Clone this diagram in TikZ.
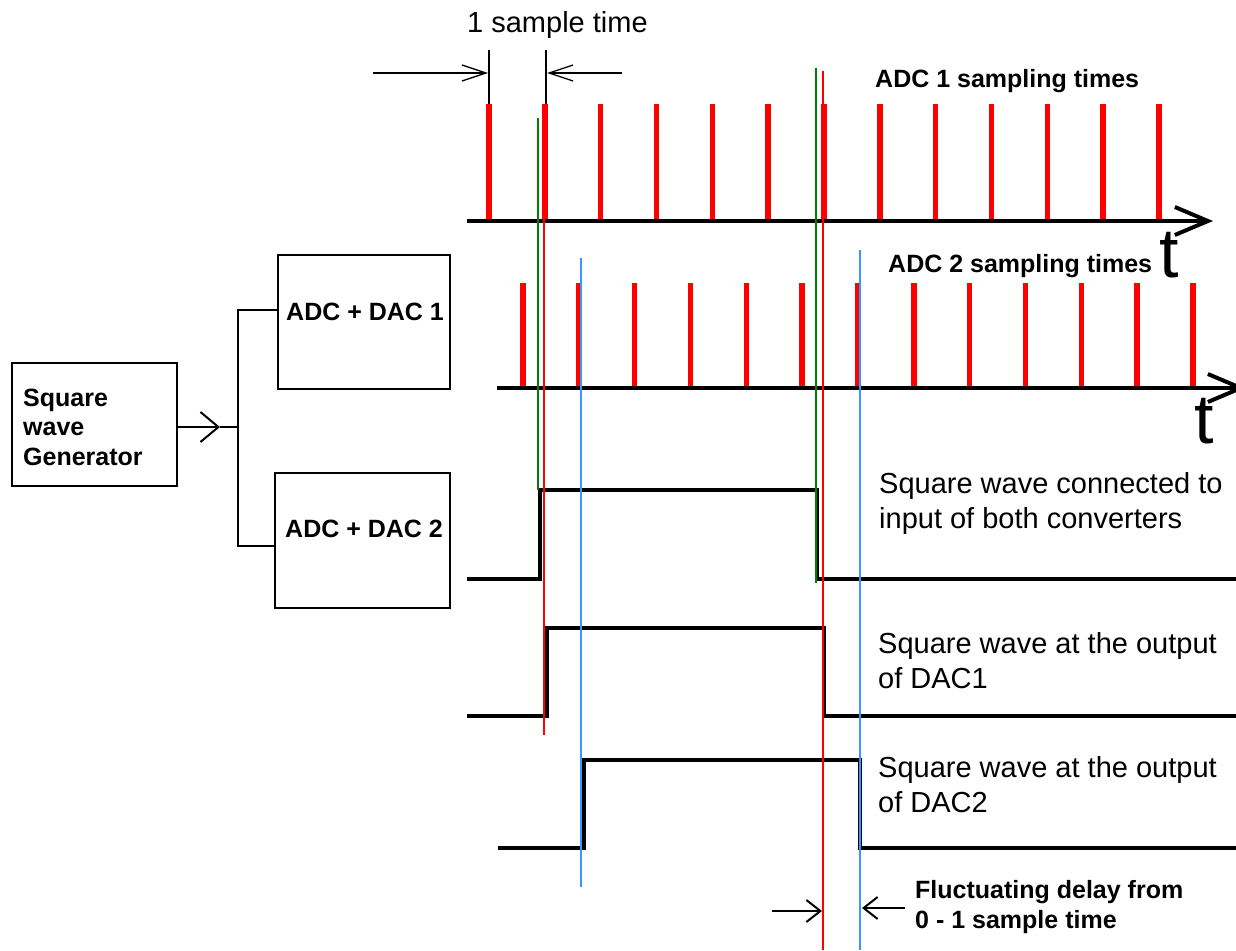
\documentclass[tikz,border=0pt]{standalone}
\usepackage{fontspec}
\setmainfont{Liberation Sans}
\usetikzlibrary{arrows.meta}
\definecolor{grn}{RGB}{0,128,0}
\definecolor{blu}{RGB}{51,153,255}
\begin{document}
\begin{tikzpicture}[x=1pt,y=-1pt,
  box/.style={draw, line width=2pt, inner sep=0pt},
  reg/.style={font=\fontsize{29}{35}\selectfont, inner sep=0pt, anchor=base west, align=left},
  bld/.style={font=\fontsize{25}{30}\selectfont\bfseries, inner sep=0pt, anchor=base west, align=left},
  tlbl/.style={font=\fontsize{70}{70}\selectfont, inner sep=0pt, anchor=base west},
  axisln/.style={line width=4.5pt, -{Straight Barb[length=33pt,width=28pt,line width=4pt]}},
  tick/.style={red, line width=5.5pt},
  wave/.style={line width=4pt, line join=miter},
  thin/.style={line width=1.5pt},
  dim/.style={line width=1.3pt, -{Straight Barb[length=24pt,width=16pt,line width=1.3pt]}},
  dly/.style={line width=2pt, -{Straight Barb[length=14pt,width=22pt,line width=2pt]}},
  wire/.style={line width=2pt}
]
\useasboundingbox (0,0) rectangle (1236,950);

% ---- block diagram ----
\node[box, minimum width=165pt, minimum height=123pt] (gen) at (94.5,424.5) {};
\node[box, minimum width=172pt, minimum height=134pt] (adc1) at (364,322) {};
\node[box, minimum width=175pt, minimum height=135pt] (adc2) at (362.5,540.5) {};
\node[bld, font=\fontsize{25}{29.5}\selectfont\bfseries] (gentxt) at (23,465) {Square\\wave\\Generator};
\node[bld] (adc1txt) at (286,320) {ADC + DAC 1};
\node[bld] (adc2txt) at (285,537) {ADC + DAC 2};

\coordinate (br) at (238,427);
\coordinate (mid) at (220,427);
\coordinate (b1) at (238,310);
\coordinate (b2) at (238,546);
\draw[wire, -{Straight Barb[length=18pt,width=30pt,line width=2pt]}] (gen.east |- br) -- (mid);
\draw[wire] (mid) -- (br);
\draw[wire] (b1 -| adc1.west) -- (b1) -- (b2) -- (b2 -| adc2.west);

% ---- ADC 1 sampling ----
\foreach \i in {0,...,12}{
  \draw[tick] ({489+55.83*\i},104) -- ({489+55.83*\i},221);
}
\draw[axisln] (467,221) -- (1213,221);
\node[tlbl] (t1) at (1159,277) {t};
\node[bld] (adc1lbl) at (875,88) {ADC 1 sampling times};

% ---- ADC 2 sampling ----
\foreach \i in {0,...,12}{
  \draw[tick] ({523+55.83*\i},283) -- ({523+55.83*\i},388);
}
\begin{scope}
\clip (0,0) rectangle (1236,950);
\draw[axisln] (497,388) -- (1246,388);
\end{scope}
\node[tlbl] (t2) at (1194,443) {t};
\node[bld] (adc2lbl) at (888,272) {ADC 2 sampling times};

% ---- square waves ----
\draw[wave] (467,579) -- (540,579) -- (540,490) -- (817,490) -- (817,579) -- (1236,579);
\draw[wave] (467,716) -- (547,716) -- (547,628) -- (824,628) -- (824,716) -- (1236,716);
\draw[wave] (498,848) -- (584,848) -- (584,760) -- (860,760) -- (860,848) -- (1236,848);

\node[reg] (w1) at (879,528) {Square wave connected to\\input of both converters};
\node[reg] (w2) at (878,688) {Square wave at the output\\of DAC1};
\node[reg] (w3) at (878,812) {Square wave at the output\\of DAC2};

% ---- marker lines ----
\draw[thin, grn] (538,118) -- (538,490);
\draw[thin, red] (544,104) -- (544,735);
\draw[thin, grn] (816,68) -- (816,583);
\draw[thin, red] (823,71) -- (823,950);
\draw[thin, blu] (581,258) -- (581,887);
\draw[thin, blu] (860,250) -- (860,950);

% ---- 1 sample time ----
\coordinate (s1top) at (489,50);
\coordinate (s2top) at (546,50);
\draw[thin] (s1top) -- (489,104);
\draw[thin] (s2top) -- (546,104);
\coordinate (a1s) at (373,73);
\coordinate (a1e) at (488,73);
\coordinate (a2s) at (622,73);
\coordinate (a2e) at (547,73);
\draw[dim] (a1s) -- (a1e);
\draw[dim] (a2s) -- (a2e);
\node[reg] (samp) at (467,33) {1 sample time};

% ---- delay ----
\coordinate (d1s) at (772,911);
\coordinate (d1e) at (822,911);
\coordinate (d2s) at (905,908);
\coordinate (d2e) at (862,908);
\draw[dly] (d1s) -- (d1e);
\draw[dly] (d2s) -- (d2e);
\node[bld] (dlytxt) at (915,928) {Fluctuating delay from\\0 - 1 sample time};
\end{tikzpicture}
\end{document}
